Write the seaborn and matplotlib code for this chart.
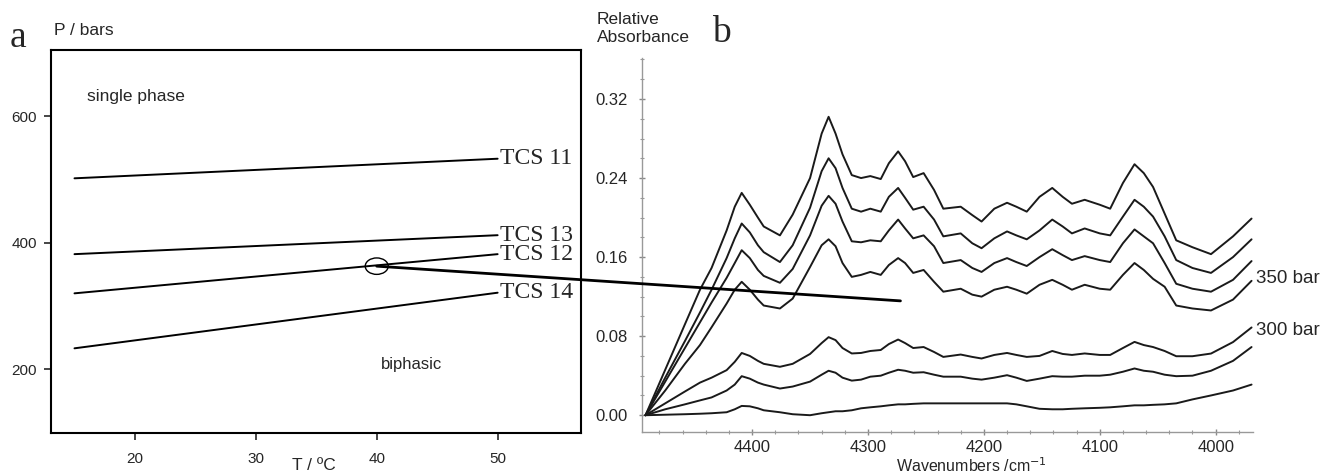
import pandas as pd
import matplotlib.pyplot as plt
import numpy as np
import seaborn as sns
from matplotlib.patches import Ellipse, ConnectionPatch
from matplotlib.ticker import MultipleLocator, FormatStrFormatter

# ----- panel a: phase boundaries (P vs T) -----
tcs_names = ["TCS 11", "TCS 13", "TCS 12", "TCS 14"]
temp_ends = [15, 50]
p_at_15 = [502, 382, 320, 233]
p_at_50 = [533, 412, 382, 321]
marked_point = (40, 363)   # circled point on TCS 12

# ----- panel b: NIR spectra -----
wavenumbers = [4492, 4475, 4458, 4445, 4435, 4422, 4415, 4409, 4402, 4395,
               4390, 4376, 4365, 4350, 4340, 4334, 4328, 4322, 4314, 4306,
               4298, 4289, 4282, 4274, 4268, 4261, 4252, 4243, 4235, 4220,
               4210, 4202, 4191, 4180, 4172, 4163, 4152, 4141, 4132, 4124,
               4113, 4100, 4091, 4080, 4070, 4062, 4054, 4044, 4034, 4020,
               4004, 3985, 3969]
abs_1 = [0.000, 0.046, 0.092, 0.127, 0.149, 0.187, 0.211, 0.225, 0.213, 0.200,
         0.191, 0.182, 0.203, 0.240, 0.285, 0.302, 0.285, 0.264, 0.243, 0.240,
         0.242, 0.239, 0.255, 0.267, 0.257, 0.241, 0.245, 0.228, 0.209, 0.211,
         0.2025, 0.196, 0.209, 0.215, 0.211, 0.206, 0.221, 0.230, 0.221, 0.214,
         0.218, 0.213, 0.209, 0.235, 0.254, 0.245, 0.231, 0.204, 0.177, 0.170,
         0.163, 0.181, 0.199]
abs_2 = [0.000, 0.038, 0.075, 0.104, 0.127, 0.159, 0.179, 0.194, 0.185, 0.172,
         0.165, 0.155, 0.172, 0.210, 0.247, 0.260, 0.250, 0.230, 0.209, 0.206,
         0.209, 0.206, 0.221, 0.230, 0.220, 0.208, 0.211, 0.198, 0.181, 0.184,
         0.174, 0.169, 0.179, 0.186, 0.182, 0.178, 0.187, 0.198, 0.191, 0.184,
         0.189, 0.184, 0.182, 0.201, 0.218, 0.211, 0.201, 0.181, 0.157, 0.149,
         0.144, 0.160, 0.178]
abs_3 = [0.000, 0.034, 0.068, 0.094, 0.114, 0.139, 0.154, 0.167, 0.159, 0.147,
         0.141, 0.134, 0.148, 0.182, 0.212, 0.222, 0.214, 0.196, 0.176, 0.175,
         0.177, 0.176, 0.187, 0.198, 0.189, 0.179, 0.182, 0.171, 0.154, 0.157,
         0.149, 0.145, 0.154, 0.159, 0.155, 0.151, 0.160, 0.168, 0.162, 0.157,
         0.161, 0.157, 0.155, 0.174, 0.188, 0.181, 0.174, 0.154, 0.133, 0.128,
         0.125, 0.137, 0.156]
abs_4 = [0.000, 0.025, 0.052, 0.071, 0.089, 0.113, 0.127, 0.135, 0.127, 0.117,
         0.111, 0.108, 0.118, 0.150, 0.172, 0.178, 0.171, 0.154, 0.140, 0.142,
         0.145, 0.142, 0.152, 0.159, 0.154, 0.144, 0.147, 0.135, 0.125, 0.128,
         0.122, 0.120, 0.127, 0.130, 0.127, 0.123, 0.132, 0.137, 0.132, 0.127,
         0.132, 0.128, 0.127, 0.142, 0.154, 0.147, 0.138, 0.130, 0.111, 0.108,
         0.106, 0.117, 0.136]
abs_5 = [0.000, 0.012, 0.024, 0.033, 0.038, 0.0456, 0.054, 0.063, 0.060, 0.055,
         0.052, 0.049, 0.052, 0.062, 0.073, 0.079, 0.076, 0.068, 0.0625, 0.063,
         0.065, 0.066, 0.072, 0.0766, 0.073, 0.068, 0.069, 0.064, 0.059, 0.0614,
         0.059, 0.0574, 0.061, 0.063, 0.061, 0.059, 0.060, 0.065, 0.062, 0.061,
         0.0625, 0.061, 0.061, 0.068, 0.0742, 0.071, 0.069, 0.065, 0.0597, 0.0597,
         0.0624, 0.074, 0.0888]
abs_6 = [0.000, 0.006, 0.011, 0.015, 0.018, 0.025, 0.031, 0.0395, 0.037, 0.033,
         0.031, 0.027, 0.029, 0.034, 0.041, 0.045, 0.043, 0.038, 0.035, 0.036,
         0.039, 0.040, 0.043, 0.046, 0.045, 0.043, 0.0435, 0.041, 0.039, 0.039,
         0.037, 0.036, 0.038, 0.0405, 0.038, 0.0347, 0.037, 0.0395, 0.039, 0.039,
         0.040, 0.040, 0.041, 0.044, 0.0473, 0.045, 0.044, 0.041, 0.0395, 0.040,
         0.045, 0.055, 0.069]
abs_7 = [0.000, 0.0005, 0.001, 0.0015, 0.002, 0.003, 0.006, 0.0094, 0.009, 0.007,
         0.005, 0.003, 0.001, 0.000, 0.002, 0.003, 0.004, 0.004, 0.005, 0.007,
         0.008, 0.009, 0.010, 0.011, 0.011, 0.0115, 0.012, 0.012, 0.012, 0.012,
         0.012, 0.012, 0.012, 0.012, 0.011, 0.009, 0.0065, 0.006, 0.006, 0.0065,
         0.007, 0.0075, 0.008, 0.009, 0.010, 0.010, 0.0105, 0.011, 0.012, 0.016,
         0.020, 0.025, 0.031]
spectra = [abs_1, abs_2, abs_3, abs_4, abs_5, abs_6, abs_7]
line_end = (4272, 0.1157)   # end of the pointer line in panel b

# long form tables
rows_a = []
for name, p0, p1 in zip(tcs_names, p_at_15, p_at_50):
    rows_a.append({"T": temp_ends[0], "P": p0, "curve": name})
    rows_a.append({"T": temp_ends[1], "P": p1, "curve": name})
dfa = pd.DataFrame(rows_a)

dfb = pd.DataFrame({"wn": wavenumbers})
for i, s in enumerate(spectra):
    dfb["s%d" % i] = s
dfb = dfb.melt(id_vars=["wn"], var_name="curve", value_name="A")

sns.set_style("ticks")
plt.rcParams['font.family'] = ['Liberation Sans', 'DejaVu Sans']
serif = ['Liberation Serif', 'DejaVu Serif']

fig = plt.figure(figsize=(13.29, 4.75), dpi=100)

# ---------------- panel a ----------------
ax1 = fig.add_axes([0.0384, 0.0884, 0.3988, 0.8063])
sns.lineplot(data=dfa, x="T", y="P", hue="curve", palette=["k"] * 4,
             legend=False, ax=ax1, linewidth=1.4, estimator=None)
ax1.set_xlim(13.06, 56.9)
ax1.set_ylim(99, 705)
ax1.set_xticks([20, 30, 40, 50])
ax1.set_yticks([200, 400, 600])
for sp in ax1.spines.values():
    sp.set_linewidth(1.5)
    sp.set_color("k")
ax1.tick_params(direction="out", length=5, width=1.2, labelsize=11)
ax1.tick_params(axis="x", pad=9)
ax1.tick_params(axis="y", pad=5)
ax1.set_xlabel("T / ºC", fontsize=12.5)
ax1.xaxis.set_label_coords(0.495, -0.084)
ax1.xaxis.label.set_va("center")
ax1.set_ylabel("")
ax1.text(0.006, 1.05, "P / bars", transform=ax1.transAxes, fontsize=12.5,
         va="center", ha="left")
ax1.text(16.0, 631, "single phase", fontsize=12.5, va="center", ha="left")
ax1.text(42.9, 207, "biphasic", fontsize=12, va="center", ha="center")
for name, p1 in zip(tcs_names, p_at_50):
    ax1.text(50.2, p1, name, family=serif, fontsize=17, va="center", ha="left")
ax1.add_patch(Ellipse(marked_point, 1.9, 26, fill=False, color="k", lw=1.0))

# ---------------- panel b ----------------
ax2 = fig.add_axes([0.4831, 0.0905, 0.4595, 0.7874])
sns.lineplot(data=dfb, x="wn", y="A", hue="curve", palette=["#1a1a1a"] * 7,
             legend=False, ax=ax2, linewidth=1.4, estimator=None)
for ln in ax2.lines:
    ln.set_solid_joinstyle("round")
ax2.set_xlim(4495, 3968)
ax2.set_ylim(-0.017, 0.3615)
ax2.set_xticks([4400, 4300, 4200, 4100, 4000])
ax2.set_yticks(np.arange(0, 0.33, 0.08))
ax2.yaxis.set_major_formatter(FormatStrFormatter("%.2f"))
ax2.xaxis.set_minor_locator(MultipleLocator(20))
ax2.yaxis.set_minor_locator(MultipleLocator(0.02))
sns.despine(ax=ax2)
for side in ["left", "bottom"]:
    ax2.spines[side].set_color("#999999")
    ax2.spines[side].set_linewidth(1.0)
ax2.tick_params(which="major", direction="inout", length=5, width=1,
                color="#888888", labelsize=12)
ax2.tick_params(which="minor", direction="inout", length=3, width=0.8,
                color="#999999")
ax2.tick_params(axis="y", pad=8)
ax2.tick_params(axis="x", pad=3)
ax2.set_xlabel("")
ax2.set_ylabel("")
ax2.text(-0.074, 1.078, "Relative\nAbsorbance", transform=ax2.transAxes,
         fontsize=12.5, va="center", ha="left", linespacing=1.25)
ax2.text(0.540, -0.091, "Wavenumbers /cm$^{-1}$", transform=ax2.transAxes,
         fontsize=11.5, va="center", ha="center")
ax2.text(3965, 0.1384, "350 bar", fontsize=13.5, va="center", ha="left",
         clip_on=False)
ax2.text(3965, 0.086, "300 bar", fontsize=13.5, va="center", ha="left",
         clip_on=False)

# pointer line from panel a to panel b
con = ConnectionPatch(xyA=marked_point, coordsA=ax1.transData,
                      xyB=line_end, coordsB=ax2.transData,
                      color="k", linewidth=2.0)
fig.add_artist(con)

fig.text(0.0075, 0.901, "a", family=serif, fontsize=27, va="baseline")
fig.text(0.5355, 0.912, "b", family=serif, fontsize=27, va="baseline")

fig.savefig("out.png", dpi=100)
